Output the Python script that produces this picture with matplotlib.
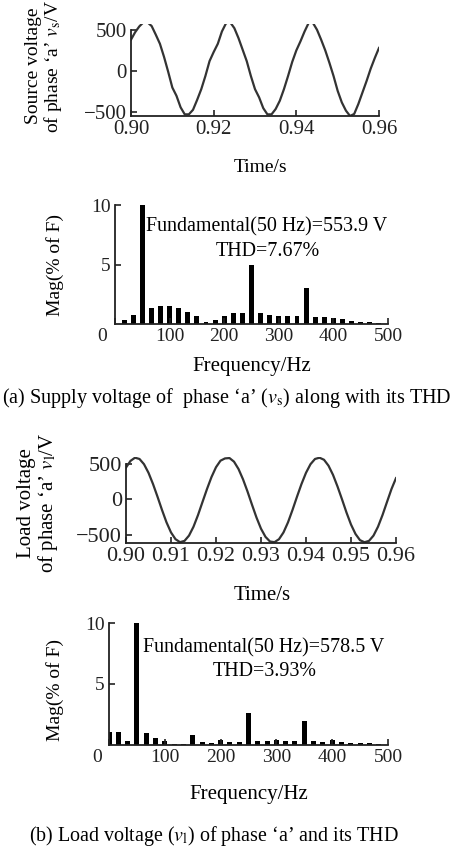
import numpy as np
import matplotlib
matplotlib.use("Agg")
import matplotlib.pyplot as plt
from matplotlib.transforms import ScaledTranslation

plt.rcParams["font.family"] = ["Liberation Serif", "DejaVu Serif"]
plt.rcParams["mathtext.fontset"] = "stix"

W, H = 454, 849

# sample instants (1 ms steps, 0.90 s .. 0.96 s)
time_s = np.linspace(0.90, 0.96, 61)

# phase 'a' source voltage (V)
source_v = [380, 470, 540, 590, 590, 545, 440, 330, 170, -10,
            -200, -300, -440, -525, -525, -470, -350, -220, -60, 120,
            230, 330, 480, 580, 590, 520, 400, 260, 120, -60,
            -220, -320, -450, -525, -525, -460, -360, -220, -60, 110,
            250, 360, 480, 585, 585, 500, 380, 250, 100, -60,
            -240, -380, -480, -545, -520, -400, -260, -120, 30, 160,
            280]

# phase 'a' load voltage (V)
load_v = [450, 545, 590, 572, 498, 376, 217, 37, -151, -327,
          -470, -566, -608, -590, -515, -389, -224, -38, 146, 316,
          455, 548, 580, 585, 534, 430, 284, 111, -77, -259,
          -417, -533, -599, -608, -566, -470, -327, -151, 37, 217,
          376, 498, 572, 590, 561, 477, 347, 182, 0, -188,
          -358, -492, -580, -609, -590, -515, -389, -224, -38, 146,
          300]

# spectrum bins (Hz) and magnitudes (% of fundamental)
freq_hz = [0, 16.7, 33.3, 50, 66.7, 83.3, 100, 116.7, 133.3, 150,
           166.7, 183.3, 200, 216.7, 233.3, 250, 266.7, 283.3, 300, 316.7,
           333.3, 350, 366.7, 383.3, 400, 416.7, 433.3, 450, 466.7, 483.3]
source_mag = [0, 0.35, 0.78, 100, 1.35, 1.55, 1.55, 1.35, 1.05, 0.65,
              0.2, 0.3, 0.65, 0.9, 0.95, 5.0, 0.9, 0.72, 0.7, 0.7,
              0.7, 3.0, 0.6, 0.6, 0.52, 0.38, 0.28, 0.18, 0.16, 0.1]
load_mag = [1.1, 1.1, 0.36, 100, 0.97, 0.61, 0.35, 0.06, 0.06, 0.83,
            0.22, 0.2, 0.4, 0.28, 0.28, 2.6, 0.3, 0.3, 0.45, 0.33,
            0.33, 1.95, 0.33, 0.28, 0.45, 0.28, 0.2, 0.14, 0.14, 0.1]

fig = plt.figure(figsize=(W / 100, H / 100), dpi=100)


def rect(l, t, r, b):
    return [l / W, 1 - b / H, (r - l) / W, (b - t) / H]


def style(ax, fs):
    for s in ("top", "right"):
        ax.spines[s].set_visible(False)
    for s in ("left", "bottom"):
        ax.spines[s].set_linewidth(1.3)
        ax.spines[s].set_color("#222222")
    ax.tick_params(direction="in", length=4, width=1.2, labelsize=fs,
                   pad=3, colors="#222222")


def fig_text(x, y, s, **kw):
    fig.text(x / W, 1 - y / H, s, ha="center", va="center", **kw)


def shift_first_xlabel(ax, dx):
    lab = ax.get_xticklabels()[0]
    lab.set_transform(lab.get_transform() + ScaledTranslation(dx / 100, 0, fig.dpi_scale_trans))


# ---- (a) source voltage waveform ----
ax1 = fig.add_axes(rect(131, 24, 379, 116))
ax1.plot(time_s, source_v, color="#333333", lw=1.6)
ax1.set_xlim(0.90, 0.96)
ax1.set_ylim(-545, 570)
ax1.set_xticks([0.90, 0.92, 0.94, 0.96])
ax1.set_xticklabels(["0.90", "0.92", "0.94", "0.96"])
ax1.set_yticks([-500, 0, 500])
style(ax1, 15)
ax1.spines["left"].set_bounds(-545, 500)
fig_text(260, 167, "Time/s", fontsize=14)
fig_text(45, 66, "Source voltage\nof phase \u2018a\u2019 $v_{\\mathrm{s}}$/V",
         rotation=90, fontsize=14, linespacing=1.0)

# ---- (a) source spectrum ----
ax2 = fig.add_axes(rect(115, 205, 388, 324))
ax2.bar(freq_hz, source_mag, width=9, color="black")
ax2.set_xlim(0, 500)
ax2.set_ylim(0, 10)
ax2.set_xticks([0, 100, 200, 300, 400, 500])
ax2.set_yticks([5, 10])
style(ax2, 14)
shift_first_xlabel(ax2, -13)
fig_text(267, 227, "Fundamental(50 Hz)=553.9 V", fontsize=14.4)
fig_text(268, 251, "THD=7.67%", fontsize=14.4)
fig_text(55, 265, "Mag(% of F)", rotation=90, fontsize=14)
fig_text(252, 367, "Frequency/Hz", fontsize=15)
fig_text(227, 398, "(a) Supply voltage of  phase \u2018a\u2019 ($v_{\\mathrm{s}}$) along with its THD",
         fontsize=14.5)

# ---- (b) load voltage waveform ----
ax3 = fig.add_axes(rect(126, 457, 396, 543))
ax3.plot(time_s, load_v, color="#333333", lw=1.6)
ax3.set_xlim(0.90, 0.96)
ax3.set_ylim(-620, 600)
ax3.set_xticks([0.90, 0.91, 0.92, 0.93, 0.94, 0.95, 0.96])
ax3.set_xticklabels(["0.90", "0.91", "0.92", "0.93", "0.94", "0.95", "0.96"])
ax3.set_yticks([-500, 0, 500])
style(ax3, 16)
ax3.spines["left"].set_bounds(-620, 500)
fig_text(262, 595, "Time/s", fontsize=15)
fig_text(39, 503, "Load voltage\nof phase \u2018a\u2019 $v_{\\mathrm{l}}$/V",
         rotation=90, fontsize=15, linespacing=1.0)

# ---- (b) load spectrum ----
ax4 = fig.add_axes(rect(109, 623, 388, 745))
ax4.bar(freq_hz, load_mag, width=9, color="black")
ax4.set_xlim(0, 500)
ax4.set_ylim(0, 10)
ax4.set_xticks([0, 100, 200, 300, 400, 500])
ax4.set_yticks([5, 10])
style(ax4, 14)
shift_first_xlabel(ax4, -12)
fig_text(264, 648, "Fundamental(50 Hz)=578.5 V", fontsize=14.4)
fig_text(265, 672, "THD=3.93%", fontsize=14.4)
fig_text(55, 690, "Mag(% of F)", rotation=90, fontsize=14)
fig_text(249, 795, "Frequency/Hz", fontsize=15)
fig_text(214, 836, "(b) Load voltage ($v_{\\mathrm{l}}$) of phase \u2018a\u2019 and its THD",
         fontsize=14.4)

fig.savefig("out.png", dpi=100)
